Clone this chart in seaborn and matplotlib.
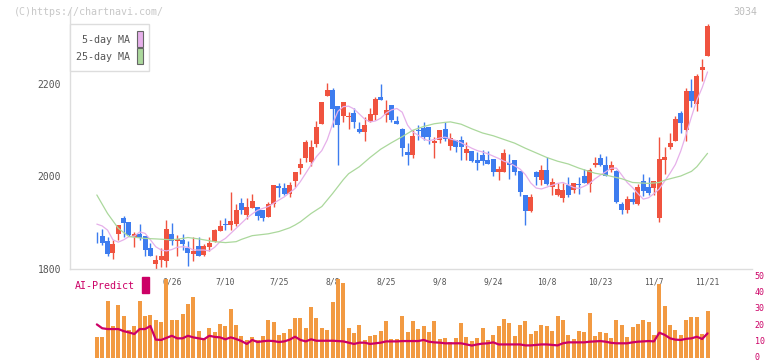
import numpy as np
import matplotlib
matplotlib.use("Agg")
import matplotlib.pyplot as plt
import matplotlib.transforms as mtransforms
import seaborn as sns
from matplotlib.patches import Rectangle

# ---------------- data ----------------
opens = [1878, 1866, 1871, 1860, 1833, 1875, 1909, 1900, 1869, 1875,
         1870, 1844, 1810, 1818, 1816, 1875, 1860, 1862, 1844, 1831,
         1849, 1829, 1847, 1858, 1882, 1895, 1893, 1896, 1942, 1916,
         1931, 1933, 1926, 1912, 1940, 1978, 1974, 1961, 1990, 2018,
         2039, 2030, 2069, 2112, 2173, 2186, 2151, 2130, 2128, 2136,
         2102, 2096, 2117, 2132, 2170, 2132, 2154, 2119, 2102, 2052,
         2046, 2098, 2104, 2106, 2072, 2078, 2102, 2065, 2078, 2078,
         2050, 2054, 2035, 2045, 2035, 2037, 2009, 2009, 2028, 2035,
         2011, 1959, 1924, 2009, 1991, 2013, 1976, 1959, 1952, 1981,
         1970, 1982, 2000, 1983, 2024, 2039, 2024, 2013, 2011, 1939,
         1926, 1950, 1939, 1989, 1976, 1974, 1909, 2035, 2063, 2076,
         2136, 2099, 2184, 2156, 2229, 2259]
highs = [1878, 1878, 1885, 1869, 1862, 1894, 1914, 1900, 1879, 1897,
         1870, 1856, 1829, 1845, 1905, 1898, 1872, 1875, 1860, 1868,
         1868, 1853, 1868, 1885, 1905, 1909, 1965, 1940, 1953, 1953,
         1961, 1933, 1926, 1944, 1981, 1985, 1985, 1986, 2009, 2039,
         2078, 2078, 2118, 2161, 2201, 2190, 2151, 2159, 2138, 2146,
         2117, 2128, 2148, 2170, 2199, 2164, 2154, 2130, 2104, 2071,
         2100, 2110, 2117, 2106, 2085, 2100, 2117, 2093, 2078, 2086,
         2073, 2054, 2051, 2056, 2054, 2037, 2022, 2058, 2048, 2035,
         2011, 1959, 1961, 2011, 2024, 2041, 1995, 1985, 1985, 1998,
         1985, 1998, 2015, 2017, 2041, 2048, 2043, 2032, 2013, 1944,
         1957, 1965, 1983, 2004, 1998, 1989, 2084, 2063, 2093, 2130,
         2140, 2190, 2210, 2220, 2253, 2329]
lows = [1878, 1855, 1851, 1826, 1821, 1862, 1869, 1871, 1847, 1862,
        1827, 1826, 1800, 1804, 1804, 1851, 1826, 1840, 1806, 1817,
        1826, 1828, 1837, 1858, 1882, 1883, 1883, 1891, 1918, 1906,
        1931, 1904, 1903, 1911, 1933, 1955, 1960, 1955, 1977, 2005,
        2030, 2021, 2063, 2112, 2173, 2107, 2024, 2116, 2101, 2103,
        2092, 2076, 2117, 2121, 2165, 2116, 2117, 2113, 2043, 2024,
        2039, 2078, 2078, 2069, 2039, 2071, 2076, 2056, 2052, 2034,
        2035, 2030, 2013, 2024, 2027, 2000, 1991, 2009, 1994, 2002,
        1957, 1894, 1922, 1981, 1981, 1981, 1959, 1957, 1944, 1955,
        1963, 1961, 1985, 1965, 2019, 2022, 2000, 2009, 1942, 1918,
        1920, 1939, 1937, 1957, 1959, 1959, 1900, 2004, 2058, 2076,
        2093, 2076, 2149, 2140, 2205, 2259]
closes = [1878, 1865, 1856, 1832, 1854, 1894, 1898, 1873, 1875, 1867,
          1839, 1827, 1818, 1827, 1885, 1860, 1864, 1853, 1834, 1838,
          1826, 1849, 1855, 1883, 1892, 1894, 1903, 1926, 1927, 1933,
          1946, 1914, 1910, 1939, 1981, 1973, 1961, 1981, 2009, 2026,
          2073, 2063, 2107, 2161, 2186, 2144, 2110, 2159, 2130, 2117,
          2096, 2110, 2134, 2167, 2165, 2143, 2122, 2113, 2061, 2046,
          2086, 2097, 2084, 2084, 2076, 2100, 2080, 2082, 2063, 2063,
          2058, 2032, 2029, 2032, 2027, 2009, 2015, 2050, 2024, 2009,
          1965, 1924, 1955, 1998, 2013, 1983, 1987, 1972, 1970, 1959,
          1985, 1981, 1985, 2013, 2028, 2024, 2000, 2024, 1944, 1926,
          1950, 1944, 1976, 1968, 1963, 1989, 2037, 2041, 2071, 2123,
          2115, 2184, 2162, 2216, 2236, 2324]

# 5-day moving average, days 1..115
ma5 = [1896, 1892, 1883, 1862, 1857, 1862, 1869, 1870, 1879, 1876,
       1862, 1847, 1840, 1838, 1841, 1846, 1847, 1846, 1840, 1840,
       1840, 1838, 1846, 1858, 1865, 1876, 1887, 1898, 1909, 1918,
       1926, 1930, 1934, 1941, 1948, 1955, 1964, 1973, 1988, 2006,
       2024, 2042, 2055, 2078, 2112, 2140, 2150, 2151, 2145, 2134,
       2123, 2117, 2119, 2125, 2136, 2143, 2146, 2138, 2110, 2095,
       2088, 2080, 2076, 2079, 2082, 2084, 2080, 2077, 2072, 2066,
       2060, 2055, 2052, 2048, 2043, 2038, 2032, 2028, 2022, 2015,
       2003, 1985, 1974, 1972, 1976, 1980, 1984, 1986, 1981, 1975,
       1973, 1978, 1984, 1994, 2002, 2009, 2017, 2017, 2002, 1986,
       1975, 1962, 1950, 1953, 1962, 1972, 1989, 2006, 2025, 2054,
       2090, 2128, 2164, 2191, 2225]

# 25-day moving average (read at these days)
ma25_day = [1, 3, 5, 7, 10, 12, 15, 17, 18, 20, 23, 25, 27, 28, 30, 33, 35, 37,
            38, 39, 40, 41, 43, 45, 47, 48, 50, 52, 54, 56, 58, 60, 62, 64, 66,
            67, 69, 71, 73, 75, 77, 79, 81, 83, 85, 87, 89, 91, 94, 96, 99, 101,
            104, 106, 107, 110, 112, 113, 115]
ma25 = [1959, 1919, 1887, 1869, 1865, 1864, 1862, 1865, 1867, 1864, 1858, 1856,
        1858, 1863, 1871, 1875, 1880, 1888, 1894, 1901, 1910, 1919, 1934, 1962,
        1992, 2005, 2020, 2040, 2058, 2072, 2085, 2099, 2107, 2113, 2116, 2117,
        2112, 2102, 2093, 2087, 2079, 2071, 2060, 2050, 2040, 2032, 2026, 2017,
        2006, 2002, 1994, 1986, 1984, 1986, 1991, 2000, 2010, 2020, 2049]

# lower panel bars, days 1..115
volume = [13.3, 13.3, 35.6, 20.0, 33.1, 26.3, 17.5, 20.0, 35.6, 26.3,
          26.9, 23.8, 22.5, 49.4, 23.8, 23.8, 27.7, 34.0, 38.3, 16.9,
          12.5, 19.0, 16.3, 21.3, 20.0, 30.6, 20.8, 13.8, 11.3, 13.1,
          11.3, 13.8, 23.8, 22.5, 14.4, 15.6, 18.1, 25.0, 25.0, 18.8,
          31.9, 25.0, 18.5, 17.5, 35.0, 49.4, 46.9, 18.8, 15.6, 20.6,
          11.3, 13.8, 14.4, 16.9, 23.1, 11.9, 11.9, 26.3, 16.5, 23.1,
          18.1, 20.0, 16.5, 23.1, 11.9, 12.5, 9.8, 12.5, 21.9, 13.1,
          10.6, 12.5, 18.8, 11.3, 14.4, 20.0, 24.4, 21.9, 13.8, 20.6,
          23.1, 15.0, 16.9, 20.6, 20.0, 16.9, 26.3, 23.8, 14.4, 11.9,
          16.9, 16.3, 28.1, 13.8, 16.3, 15.6, 12.5, 23.8, 20.6, 13.1,
          19.4, 21.3, 23.8, 22.5, 14.4, 46.3, 32.5, 20.6, 17.5, 14.4,
          23.8, 25.6, 25.6, 15.0, 29.4]

# AI-Predict line, days 1..115
ai_predict = [21.0, 18.6, 18.1, 18.1, 18.1, 16.8, 16.0, 15.0, 18.1, 18.1,
              20.0, 11.5, 11.3, 12.6, 13.9, 12.3, 12.3, 13.9, 12.9, 12.3,
              11.7, 13.9, 13.2, 12.9, 11.7, 12.9, 11.9, 10.6, 8.8, 11.3,
              10.0, 10.5, 10.8, 10.6, 10.0, 10.4, 11.5, 13.3, 11.3, 10.4,
              11.7, 10.8, 10.8, 10.8, 10.8, 10.6, 10.4, 9.6, 8.8, 9.6,
              9.6, 8.8, 9.2, 9.6, 10.4, 10.4, 10.4, 10.6, 10.6, 10.6,
              10.6, 11.3, 10.2, 9.8, 9.6, 9.2, 9.2, 9.2, 9.2, 8.5,
              7.8, 8.5, 9.0, 9.2, 9.8, 8.5, 8.5, 8.5, 8.5, 8.5,
              7.9, 7.9, 8.2, 8.5, 8.5, 8.2, 7.9, 9.2, 9.8, 9.8,
              9.8, 9.8, 10.2, 10.4, 10.6, 10.2, 9.5, 9.2, 9.2, 9.2,
              9.8, 10.2, 10.4, 10.6, 10.4, 15.8, 14.5, 12.3, 11.5, 11.3,
              12.0, 12.3, 13.3, 11.9, 15.4]

date_labels = ["6/26", "7/10", "7/25", "8/8", "8/25", "9/8", "9/24",
               "10/8", "10/23", "11/7", "11/21"]
date_label_day = [15, 25, 35, 45, 55, 65, 75, 85, 95, 105, 115]

price_ticks = [1800, 2000, 2200]
pred_ticks = [0, 10, 20, 30, 40, 50]

# ---------------- style ----------------
RED = "#f0533f"
BLUE = "#3d7cef"
PINK = "#e6b0ea"
GREEN = "#abd89c"
ORANGE = "#f29a42"
MAGENTA = "#cc0066"
AXIS = "#dddddd"
TXT = "#555555"

sns.set_theme(style="white")
plt.rcParams["font.family"] = ["DejaVu Sans Mono", "DejaVu Sans"]

W, H = 772, 361
fig = plt.figure(figsize=(W / 100, H / 100), dpi=100)


def fx(px):
    return px / W


def fy(py):
    return 1 - py / H


ax = fig.add_axes([fx(70), fy(269), fx(752) - fx(70), fy(10) - fy(269)])
ax2 = fig.add_axes([fx(70), fy(359), fx(752) - fx(70), fy(269) - fy(359)])
ax2.set_facecolor("none")

XMIN, XMAX = -4.01, 123.3

# ---------------- candles ----------------
o = np.array(opens, float)
c = np.array(closes, float)
h = np.array(highs, float)
l = np.array(lows, float)
days = np.arange(len(o))
up = c >= o
cols = np.where(up, RED, BLUE)
ax.vlines(days, l, h, colors=cols, linewidth=1.0, zorder=2)
body_lo = np.minimum(o, c)
body_h = np.maximum(np.abs(c - o), 2.0)
ax.bar(days, body_h, bottom=body_lo, width=0.93, color=cols, linewidth=0, zorder=3)

ma5_day = np.arange(1, len(ma5) + 1)
sns.lineplot(x=ma5_day, y=ma5, ax=ax, color=PINK, linewidth=0.9, zorder=4)
sns.lineplot(x=ma25_day, y=ma25, ax=ax, color=GREEN, linewidth=0.9, zorder=4)

ax.set_xlim(XMIN, XMAX)
ylo = 2000 - (269 - 176) * (200 / 92.5)
yhi = 2000 + (176 - 10) * (200 / 92.5)
ax.set_ylim(ylo, yhi)
ax.set_yticks(price_ticks)
ax.set_yticklabels([str(t) for t in price_ticks])
ax.set_xticks(np.linspace(XMIN, XMAX, 12))
ax.set_xticklabels([])
ax.tick_params(axis="both", direction="inout", length=5.8, width=1.0,
               color=AXIS, labelcolor=TXT, labelsize=7, pad=3.5)
for s in ["top", "right"]:
    ax.spines[s].set_visible(False)
for s in ["left", "bottom"]:
    ax.spines[s].set_color(AXIS)
    ax.spines[s].set_linewidth(1.0)
ax.set_xlabel("")
ax.set_ylabel("")
ax.grid(False)

# ---------------- lower panel ----------------
vol_day = np.arange(1, len(volume) + 1)
for d, lab in zip(date_label_day, date_labels):
    ax2.text(d, 47.6, lab, ha="center", va="center", fontsize=5.8,
             color=TXT, zorder=0.5)
sns.barplot(x=vol_day, y=volume, ax=ax2, native_scale=True, color=ORANGE,
            saturation=1, width=0.75, errorbar=None, linewidth=0, zorder=1)
sns.lineplot(x=vol_day, y=ai_predict, ax=ax2, color=MAGENTA, linewidth=1.6,
             zorder=3)
ax2.set_xlim(XMIN, XMAX)
ax2.set_ylim(-0.6, 55.6)
ax2.yaxis.tick_right()
ax2.set_yticks(pred_ticks)
ax2.set_yticklabels([str(t) for t in pred_ticks])
ax2.tick_params(axis="y", length=0, pad=2.0, labelcolor=MAGENTA, labelsize=6.0)
shift_up = mtransforms.ScaledTranslation(0, 2.0 / 100, fig.dpi_scale_trans)
for lbl in ax2.get_yticklabels():
    lbl.set_transform(lbl.get_transform() + shift_up)
ax2.set_xticks([])
for s in ax2.spines.values():
    s.set_visible(False)
ax2.set_xlabel("")
ax2.set_ylabel("")
ax2.grid(False)

ax2.text(-3.1, 45.0, "AI-Predict", ha="left", va="center", fontsize=7.2,
         color=MAGENTA, zorder=4)
ax2.add_patch(Rectangle((9.4, 40.8), 1.25, 10.0, color=MAGENTA, zorder=4,
                        clip_on=False))

# ---------------- header / legend ----------------
fig.text(fx(14), fy(12), "(C)https://chartnavi.com/", ha="left", va="center",
         fontsize=7.2, color="#c8c8c8")
fig.text(fx(757), fy(12), "3034", ha="right", va="center", fontsize=7.2,
         color="#bdbdbd")

fig.patches.append(Rectangle((fx(70), fy(70.5)), fx(148.5) - fx(70),
                             fy(24) - fy(70.5), transform=fig.transFigure,
                             facecolor="white", edgecolor=AXIS, linewidth=1.0,
                             zorder=10))
fig.text(fx(129.5), fy(40), "5-day MA", ha="right", va="center", fontsize=7.2,
         color=TXT, zorder=11)
fig.text(fx(129.5), fy(57), "25-day MA", ha="right", va="center", fontsize=7.2,
         color=TXT, zorder=11)
fig.patches.append(Rectangle((fx(136.5), fy(46.5)), fx(142.5) - fx(136.5),
                             fy(31.5) - fy(46.5), transform=fig.transFigure,
                             facecolor=PINK, edgecolor="#666666", linewidth=0.8,
                             zorder=11))
fig.patches.append(Rectangle((fx(136.5), fy(63.5)), fx(142.5) - fx(136.5),
                             fy(48.5) - fy(63.5), transform=fig.transFigure,
                             facecolor=GREEN, edgecolor="#666666", linewidth=0.8,
                             zorder=11))

fig.savefig("out.png", dpi=100)
